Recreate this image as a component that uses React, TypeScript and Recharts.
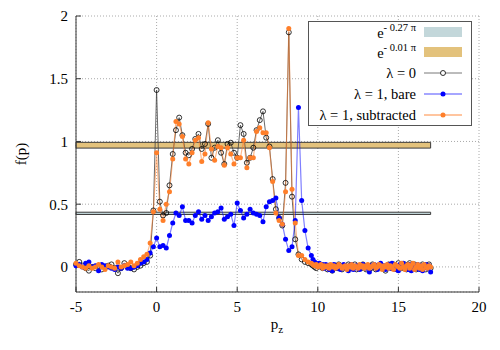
import { LineChart, Line, XAxis, YAxis, CartesianGrid, ReferenceArea, Legend } from 'recharts';

// momentum grid, coarse part then the dense tail
const X_MAIN = [
  -5, -4.8, -4.6, -4.4, -4.2, -4, -3.8, -3.6, -3.4, -3.2,
  -3, -2.8, -2.6, -2.4, -2.2, -2, -1.8, -1.6, -1.4, -1.2,
  -1, -0.8, -0.6, -0.4, -0.2, 0, 0.2, 0.4, 0.6, 0.8,
  1, 1.2, 1.4, 1.6, 1.8, 2, 2.2, 2.4, 2.6, 2.8,
  3, 3.2, 3.4, 3.6, 3.8, 4, 4.2, 4.4, 4.6, 4.8,
  5, 5.2, 5.4, 5.6, 5.8, 6, 6.2, 6.4, 6.6, 6.8,
  7, 7.2, 7.4, 7.6, 7.8, 8, 8.2, 8.4, 8.6, 8.8,
  9, 9.2, 9.4,
];
const X_TAIL = [
  9.6, 9.7, 9.8, 9.9, 10, 10.1, 10.2, 10.3, 10.4, 10.5,
  10.6, 10.7, 10.8, 10.9, 11, 11.1, 11.2, 11.3, 11.4, 11.5,
  11.6, 11.7, 11.8, 11.9, 12, 12.1, 12.2, 12.3, 12.4, 12.5,
  12.6, 12.7, 12.8, 12.9, 13, 13.1, 13.2, 13.3, 13.4, 13.5,
  13.6, 13.7, 13.8, 13.9, 14, 14.1, 14.2, 14.3, 14.4, 14.5,
  14.6, 14.7, 14.8, 14.9, 15, 15.1, 15.2, 15.3, 15.4, 15.5,
  15.6, 15.7, 15.8, 15.9, 16, 16.1, 16.2, 16.3, 16.4, 16.5,
  16.6, 16.7, 16.8, 16.9, 17,
];

// lambda = 0
const L0_MAIN = [
  0.02, 0.04, 0.01, -0.01, -0.03, 0.0, -0.01, 0.01, -0.02, 0.0,
  0.01, 0.02, -0.01, -0.05, -0.01, 0.03, 0.01, -0.01, -0.02, 0.0,
  0.01, 0.03, 0.04, 0.09, 0.45,
  1.41, 0.52, 0.41, 0.43, 0.65, 0.9, 1.09, 1.19, 1.05, 0.91,
  0.89, 0.94, 1.02, 1.06, 0.94, 0.98, 1.14, 0.87, 0.95, 1.01,
  0.91, 0.82, 0.98, 0.99, 0.91, 0.87, 1.13, 1.06, 0.83, 0.87,
  0.95, 1.09, 1.17, 1.24, 1.03, 0.96, 0.7, 0.46, 0.39, 0.33,
  0.67, 1.87, 0.56, 0.22, 0.1, 0.06, 0.04, 0.03,
];
const L0_TAIL = [
  0.02, 0.01, 0.0, -0.01, 0.01, 0.02, 0.0, -0.01, 0.01, 0.0,
  -0.02, 0.01, 0.0, -0.03, 0.0, 0.01, -0.01, 0.02, 0.0, -0.02,
  0.01, 0.0, -0.01, 0.02, 0.01, -0.01, 0.0, 0.02, -0.02, 0.0,
  0.01, -0.01, 0.02, 0.0, -0.02, 0.01, 0.0, -0.01, 0.02, 0.0,
  -0.02, 0.01, 0.0, 0.02, -0.01, 0.0, -0.03, 0.01, 0.02, 0.0,
  -0.01, 0.02, 0.0, -0.02, 0.03, 0.01, -0.01, 0.0, 0.02, -0.02,
  0.01, 0.03, 0.0, -0.01, 0.02, -0.02, 0.01, 0.0, -0.01, 0.02,
  0.0, -0.02, 0.01, 0.02, -0.01,
];

// lambda = 1, bare
const BARE_MAIN = [
  0.01, 0.02, 0.0, 0.03, 0.04, 0.0, 0.01, -0.03, 0.02, 0.01,
  0.0, -0.01, -0.02, 0.0, -0.01, 0.01, -0.01, -0.01, 0.0, 0.01,
  0.03, 0.04, 0.06, 0.11, 0.16,
  0.23, 0.16, 0.17, 0.15, 0.25, 0.35, 0.43, 0.41, 0.48, 0.37,
  0.37, 0.35, 0.41, 0.44, 0.38, 0.41, 0.37, 0.4, 0.43, 0.44,
  0.47, 0.38, 0.4, 0.42, 0.33, 0.51, 0.45, 0.39, 0.42, 0.46,
  0.43, 0.42, 0.41, 0.36, 0.48, 0.52, 0.53, 0.55, 0.39, 0.34,
  0.22, 0.13, 0.16, 0.37, 1.27, 0.53, 0.29, 0.15,
];
const BARE_TAIL = [
  0.09, 0.06, 0.04, 0.03, 0.01, 0.03, 0.0, 0.02, -0.01, 0.02,
  0.0, -0.02, 0.01, -0.03, 0.02, 0.0, -0.01, 0.01, -0.02, 0.0,
  0.02, -0.01, 0.0, -0.03, 0.01, 0.02, -0.02, 0.0, 0.01, -0.01,
  -0.02, 0.0, 0.02, 0.01, -0.01, 0.0, -0.04, 0.01, 0.0, 0.02,
  0.01, -0.02, 0.0, 0.03, -0.01, 0.01, -0.02, 0.0, 0.02, -0.01,
  0.03, 0.0, -0.02, 0.01, -0.03, 0.02, 0.0, 0.03, -0.01, 0.01,
  -0.02, 0.02, -0.03, 0.0, 0.01, -0.01, 0.02, -0.02, 0.01, -0.03,
  0.0, 0.02, -0.01, 0.01, -0.04,
];

// lambda = 1, subtracted
const SUB_MAIN = [
  0.03, 0.01, 0.0, -0.01, 0.01, -0.01, 0.0, 0.02, 0.0, -0.02,
  0.01, 0.0, -0.01, 0.04, 0.0, 0.01, 0.02, 0.04, 0.01, 0.03,
  0.06, 0.08, 0.1, 0.19, 0.44,
  0.91, 0.46, 0.37, 0.5, 0.6, 0.86, 1.16, 1.14, 1.04, 0.86,
  0.82, 0.91, 1.01, 1.03, 0.84, 0.9, 1.15, 0.94, 0.85, 0.96,
  0.95, 0.81, 0.95, 0.9, 0.82, 0.87, 0.87, 1.01, 0.79, 0.87,
  0.87, 1.08, 1.11, 1.07, 1.07, 0.95, 0.68, 0.43, 0.37, 0.34,
  0.6, 1.9, 0.62, 0.35, 0.09, 0.09, 0.06, 0.04,
];
const SUB_TAIL = [
  0.03, 0.02, 0.01, 0.02, 0.0, 0.01, 0.02, -0.01, 0.01, 0.0,
  0.01, -0.01, 0.02, 0.0, 0.01, -0.01, 0.0, 0.02, 0.01, -0.01,
  0.0, 0.01, -0.02, 0.01, 0.0, 0.02, -0.01, 0.01, 0.0, -0.01,
  0.02, 0.0, 0.01, -0.01, 0.01, 0.02, -0.01, 0.0, 0.01, 0.02,
  -0.01, 0.0, 0.02, 0.01, -0.02, 0.01, 0.0, 0.02, -0.01, 0.01,
  0.0, -0.02, 0.02, 0.01, 0.0, -0.01, 0.03, 0.0, -0.02, 0.01,
  0.02, -0.01, 0.01, 0.03, -0.02, 0.0, 0.02, -0.01, 0.01, -0.02,
  0.02, 0.0, -0.01, 0.01, 0.0,
];

// bands: e^{-0.27 pi} and e^{-0.01 pi}, with their width
const BAND_LOW = [0.418, 0.436];
const BAND_HIGH = [0.947, 0.993];
const BAND_END = 17;

const X_TICKS = [-5, 0, 5, 10, 15, 20];
const Y_TICKS = [0, 0.5, 1, 1.5, 2];

const X = [...X_MAIN, ...X_TAIL];
const L0 = [...L0_MAIN, ...L0_TAIL];
const BARE = [...BARE_MAIN, ...BARE_TAIL];
const SUB = [...SUB_MAIN, ...SUB_TAIL];
const data = X.map((x, i) => ({ x, l0: L0[i], bare: BARE[i], sub: SUB[i] }));

const FONT = 'Liberation Serif, Times New Roman, serif';
const AXIS = '#333';
const GRAY_BAND = '#c3d7da';
const GOLD_BAND = '#e3c27c';
const BLUE = '#0000ff';
const ORANGE = '#ff7f2a';

function LegendBox() {
  const textX = 108;
  const sx1 = 116;
  const sx2 = 154;
  const mid = (sx1 + sx2) / 2;
  const fs = 14.5;
  return (
    <svg width={164} height={105} style={{ display: 'block', fontFamily: FONT }}>
      <rect x={0.5} y={0.5} width={163} height={104} fill="#fff" stroke="#555" />
      <text x={textX} y={17} textAnchor="end" fontSize={fs}>
        e<tspan dy={-7} fontSize={10.5}>- 0.27 π</tspan>
      </text>
      <rect x={sx1} y={6} width={sx2 - sx1} height={10} fill={GRAY_BAND} />
      <text x={textX} y={37} textAnchor="end" fontSize={fs}>
        e<tspan dy={-7} fontSize={10.5}>- 0.01 π</tspan>
      </text>
      <rect x={sx1} y={26} width={sx2 - sx1} height={10} fill={GOLD_BAND} />
      <text x={textX} y={57} textAnchor="end" fontSize={fs}>λ = 0</text>
      <line x1={sx1} x2={sx2} y1={52} y2={52} stroke="#555" strokeWidth={0.8} />
      <circle cx={mid} cy={52} r={2.5} fill="#fff" stroke="#000" strokeWidth={0.8} />
      <text x={textX} y={78} textAnchor="end" fontSize={fs}>λ = 1, bare</text>
      <line x1={sx1} x2={sx2} y1={73} y2={73} stroke={BLUE} strokeOpacity={0.35} strokeWidth={2} />
      <circle cx={mid} cy={73} r={2.5} fill={BLUE} />
      <text x={textX} y={99} textAnchor="end" fontSize={fs}>λ = 1, subtracted</text>
      <line x1={sx1} x2={sx2} y1={94} y2={94} stroke={ORANGE} strokeOpacity={0.45} strokeWidth={2} />
      <circle cx={mid} cy={94} r={2.5} fill={ORANGE} />
    </svg>
  );
}

const tickStyle = { fontSize: 15, fill: '#000', fontFamily: FONT };

export default function App() {
  return (
    <div style={{ position: 'absolute', left: 0, top: 0, width: 500, height: 350, background: '#fff' }}>
      <LineChart
        width={500}
        height={350}
        data={data}
        margin={{ top: 16, right: 21, bottom: 28, left: 16 }}
      >
        <CartesianGrid stroke="#aaa" strokeDasharray="1 2" />
        <XAxis
          dataKey="x"
          type="number"
          domain={[-5, 20]}
          ticks={X_TICKS}
          height={30}
          tickSize={-5}
          tickMargin={14}
          tick={tickStyle}
          stroke={AXIS}
          label={() => (
            <text x={277} y={329} textAnchor="middle" fontFamily={FONT} fontSize={15}>
              p<tspan dy={4} fontSize={11}>z</tspan>
            </text>
          )}
        />
        <XAxis
          xAxisId="top"
          orientation="top"
          type="number"
          domain={[-5, 20]}
          ticks={X_TICKS}
          height={0}
          tickSize={-5}
          tick={false}
          stroke={AXIS}
        />
        <YAxis
          type="number"
          domain={[-0.2, 2]}
          ticks={Y_TICKS}
          width={60}
          tickSize={-5}
          tickMargin={13}
          tick={tickStyle}
          stroke={AXIS}
          label={() => (
            <text
              x={26}
              y={154}
              transform="rotate(-90 26 154)"
              textAnchor="middle"
              fontFamily={FONT}
              fontSize={15}
            >
              f(p)
            </text>
          )}
        />
        <YAxis
          yAxisId="right"
          orientation="right"
          type="number"
          domain={[-0.2, 2]}
          ticks={Y_TICKS}
          width={0}
          tickSize={-5}
          tick={false}
          stroke={AXIS}
        />
        <ReferenceArea
          x1={-5}
          x2={BAND_END}
          y1={BAND_LOW[0]}
          y2={BAND_LOW[1]}
          fill={GRAY_BAND}
          fillOpacity={1}
          stroke="#3a3a3a"
          strokeWidth={1}
        />
        <ReferenceArea
          x1={-5}
          x2={BAND_END}
          y1={BAND_HIGH[0]}
          y2={BAND_HIGH[1]}
          fill={GOLD_BAND}
          fillOpacity={1}
          stroke="#3a3a3a"
          strokeWidth={1}
        />
        <Line
          dataKey="l0"
          stroke="#444"
          strokeWidth={0.8}
          dot={{ r: 2.5, fill: 'none', stroke: '#000', strokeWidth: 0.8 }}
          activeDot={false}
          isAnimationActive={false}
        />
        <Line
          dataKey="bare"
          stroke={BLUE}
          strokeOpacity={0.5}
          strokeWidth={1.2}
          dot={{ r: 2.5, fill: BLUE, stroke: 'none' }}
          activeDot={false}
          isAnimationActive={false}
        />
        <Line
          dataKey="sub"
          stroke={ORANGE}
          strokeOpacity={0.55}
          strokeWidth={1.2}
          dot={{ r: 2.5, fill: ORANGE, stroke: 'none' }}
          activeDot={false}
          isAnimationActive={false}
        />
        <Legend
          layout="vertical"
          align="center"
          verticalAlign="middle"
          wrapperStyle={{ left: 308, top: 21, width: 164, height: 105 }}
          content={() => <LegendBox />}
        />
      </LineChart>
    </div>
  );
}
